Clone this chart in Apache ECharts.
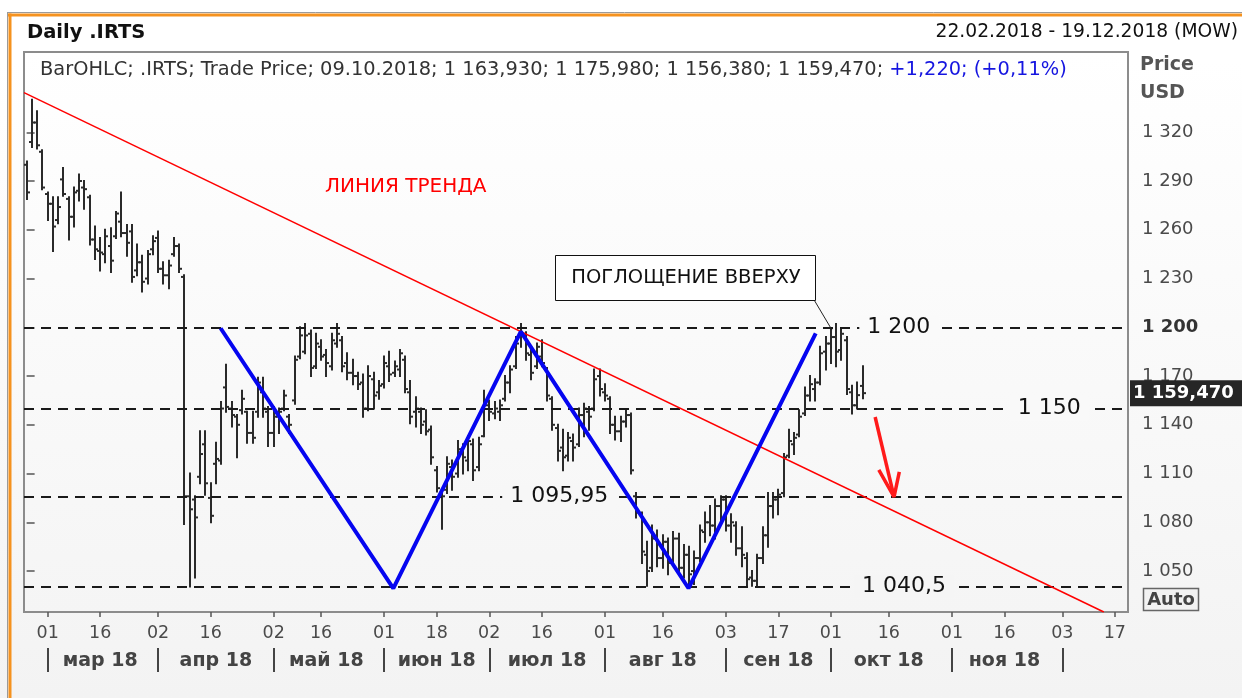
<!DOCTYPE html>
<html>
<head>
<meta charset="utf-8">
<title>Daily .IRTS</title>
<script src="https://cdn.jsdelivr.net/npm/echarts@6/dist/echarts.min.js"></script>
<style>
  html, body { margin: 0; padding: 0; background: #fff; }
  #chart { width: 1242px; height: 698px; background: linear-gradient(#ffffff 0px, #ffffff 60px, #f3f3f3 698px); }
</style>
</head>
<body>
<div id="chart"></div>
<script>
// календарь торговых дней
const firstDay = '2018-02-22';
const lastDay = '2018-12-19';
const holidays = ['2018-02-23', '2018-03-08', '2018-05-01', '2018-05-09', '2018-06-12', '2018-11-05'];
const extraDays = ['2018-04-28'];

// подписи оси X
const tickDays = ['2018-03-01', '2018-03-16', '2018-04-02', '2018-04-16', '2018-05-02', '2018-05-16',
  '2018-06-01', '2018-06-18', '2018-07-02', '2018-07-16', '2018-08-01', '2018-08-16', '2018-09-03',
  '2018-09-17', '2018-10-01', '2018-10-16', '2018-11-01', '2018-11-16', '2018-12-03', '2018-12-17'];
const monthStarts = ['2018-03-01', '2018-04-02', '2018-05-02', '2018-06-01', '2018-07-02',
  '2018-08-01', '2018-09-03', '2018-10-01', '2018-11-01', '2018-12-03'];
const monthNames = ['мар 18', 'апр 18', 'май 18', 'июн 18', 'июл 18', 'авг 18', 'сен 18', 'окт 18', 'ноя 18'];

// подписи оси Y
const yTicks = [1050, 1080, 1110, 1140, 1170, 1200, 1230, 1260, 1290, 1320];
const yMin = 1024.8;
const yMax = 1369.4;

// OHLC, 22.02.2018 - 09.10.2018
const opens = [
  1300, 1314, 1326, 1308, 1282, 1276, 1266, 1291, 1279, 1268,
  1284, 1286, 1280, 1254, 1247, 1245, 1250, 1256, 1265, 1258,
  1259, 1235, 1240, 1230, 1248, 1255, 1236, 1232, 1245, 1250,
  1231, 1096, 1094, 1108, 1128, 1095, 1116, 1118, 1163, 1150,
  1145, 1149, 1148, 1135, 1148, 1160, 1148, 1135, 1145, 1150,
  1145, 1155, 1182, 1185, 1196, 1176, 1188, 1183, 1176, 1190,
  1192, 1178, 1172, 1170, 1166, 1150, 1168, 1160, 1165, 1176,
  1172, 1174, 1180, 1160, 1148, 1148, 1142, 1137, 1112, 1098,
  1100, 1114, 1110, 1124, 1118, 1128, 1114, 1133, 1152, 1147,
  1148, 1156, 1166, 1176, 1194, 1194, 1183, 1176, 1182, 1174,
  1156, 1138, 1126, 1121, 1130, 1128, 1146, 1148, 1150, 1170,
  1160, 1156, 1140, 1136, 1142, 1146, 1096, 1085, 1060, 1052,
  1070, 1058, 1068, 1056, 1070, 1052, 1060, 1050, 1058, 1074,
  1080, 1078, 1090, 1094, 1078, 1078, 1064, 1058, 1046, 1044,
  1058, 1072, 1090, 1094, 1098, 1121, 1128, 1134, 1147, 1158,
  1162, 1166, 1185, 1190, 1194, 1186, 1192, 1160, 1152, 1163.93
];
const highs = [
  1302, 1340, 1333, 1309, 1283, 1280, 1280, 1298, 1280, 1286,
  1294, 1290, 1281, 1262, 1255, 1260, 1261, 1271, 1283, 1263,
  1263, 1251, 1244, 1247, 1256, 1259, 1240, 1241, 1255, 1251,
  1232, 1110, 1096, 1136, 1136, 1104, 1129, 1154, 1177, 1154,
  1146, 1161, 1148, 1148, 1169, 1169, 1151, 1151, 1150, 1161,
  1146, 1182, 1200, 1202, 1198, 1196, 1192, 1186, 1196, 1202,
  1194, 1184, 1180, 1172, 1171, 1176, 1172, 1167, 1182, 1185,
  1179, 1186, 1182, 1167, 1157, 1150, 1149, 1139, 1114, 1100,
  1120, 1118, 1130, 1128, 1133, 1131, 1132, 1161, 1155, 1154,
  1155, 1170, 1176, 1194, 1202, 1197, 1186, 1190, 1192, 1175,
  1157, 1140, 1137, 1135, 1134, 1150, 1153, 1151, 1174, 1174,
  1165, 1157, 1145, 1145, 1149, 1147, 1098, 1086, 1068, 1078,
  1075, 1072, 1070, 1074, 1073, 1066, 1065, 1062, 1078, 1086,
  1090, 1094, 1096, 1096, 1085, 1080, 1077, 1061, 1050, 1060,
  1077, 1098, 1098, 1100, 1122, 1137, 1135, 1149, 1163, 1170,
  1168, 1188, 1194, 1199, 1202, 1199, 1194, 1164, 1166, 1175.98
];
const lows = [
  1279, 1311, 1310, 1285, 1266, 1247, 1264, 1281, 1254, 1262,
  1278, 1273, 1251, 1242, 1235, 1240, 1234, 1255, 1256, 1244,
  1228, 1232, 1222, 1227, 1245, 1234, 1227, 1224, 1244, 1234,
  1079, 1040.5, 1046, 1104, 1097, 1080, 1104, 1116, 1148, 1139,
  1120, 1147, 1129, 1129, 1145, 1145, 1127, 1127, 1135, 1149,
  1135, 1153, 1181, 1184, 1170, 1175, 1180, 1170, 1174, 1188,
  1173, 1168, 1165, 1162, 1145, 1149, 1150, 1156, 1163, 1167,
  1170, 1170, 1160, 1141, 1139, 1135, 1134, 1116, 1099, 1076,
  1098, 1100, 1108, 1110, 1112, 1106, 1112, 1133, 1143, 1144,
  1143, 1155, 1160, 1175, 1188, 1180, 1168, 1175, 1176, 1155,
  1137, 1118, 1112, 1118, 1118, 1127, 1133, 1137, 1149, 1158,
  1155, 1135, 1131, 1130, 1139, 1110, 1083, 1055, 1041, 1050,
  1053, 1052, 1048, 1054, 1050, 1046, 1040.5, 1042, 1056, 1068,
  1072, 1070, 1080, 1075, 1068, 1060, 1053, 1041, 1041, 1041,
  1055, 1065, 1083, 1085, 1096, 1120, 1122, 1133, 1146, 1155,
  1155, 1165, 1174, 1178, 1176, 1180, 1159, 1147, 1150, 1156.38
];
const closes = [
  1283, 1326, 1312, 1286, 1276, 1262, 1274, 1282, 1268, 1283,
  1290, 1285, 1254, 1248, 1246, 1256, 1241, 1270, 1258, 1252,
  1231, 1240, 1228, 1245, 1253, 1236, 1232, 1238, 1250, 1236,
  1096, 1088, 1083, 1122, 1104, 1084, 1119, 1150, 1151, 1146,
  1140, 1156, 1135, 1132, 1166, 1150, 1135, 1145, 1148, 1158,
  1140, 1180, 1195, 1195, 1175, 1190, 1182, 1178, 1192, 1196,
  1176, 1172, 1170, 1165, 1150, 1170, 1158, 1164, 1178, 1171,
  1176, 1184, 1162, 1145, 1150, 1140, 1136, 1120, 1101, 1096,
  1116, 1108, 1125, 1120, 1130, 1112, 1128, 1155, 1148, 1150,
  1152, 1166, 1174, 1190, 1196, 1184, 1172, 1188, 1178, 1158,
  1140, 1124, 1120, 1132, 1126, 1146, 1150, 1145, 1168, 1162,
  1158, 1140, 1136, 1142, 1146, 1112, 1086, 1062, 1050, 1070,
  1058, 1068, 1055, 1070, 1052, 1060, 1048, 1058, 1075, 1080,
  1078, 1090, 1094, 1078, 1080, 1064, 1060, 1045, 1044, 1058,
  1072, 1090, 1094, 1097, 1120, 1130, 1132, 1145, 1158, 1165,
  1166, 1184, 1190, 1194, 1185, 1196, 1162, 1152, 1158.25, 1159.47
];

// уровни
const levelValues = [1200, 1150, 1095.95, 1040.5];
const levelLabels = ['1 200', '1 150', '1 095,95', '1 040,5'];
const levelLabelAt = [165.9, 194.5, 101.3, 166.9];

// разметка: [номер бара, цена]
const trendLine = [[-0.5, 1344.4], [204.9, 1024.8]];
const zigzag = [[36.9, 1199.4], [69.75, 1039.4], [94.0, 1197.3], [125.9, 1039.4], [150.1, 1196.3]];
const arrowShaft = [[161.4, 1144.8], [165.0, 1095.6]];
const arrowHead = [[162.1, 1112.2], [165.0, 1095.6], [166.0, 1111.0]];
const calloutLeader = [[149.8, 1216.8], [153.2, 1198.3]];

const font = 'DejaVu Sans';

function tradingDays() {
  const out = [];
  const d = new Date(firstDay + 'T00:00:00Z');
  const end = new Date(lastDay + 'T00:00:00Z');
  while (d <= end) {
    const s = d.toISOString().slice(0, 10);
    const wd = d.getUTCDay();
    if ((wd > 0 && wd < 6 && holidays.indexOf(s) < 0) || extraDays.indexOf(s) >= 0) out.push(s);
    d.setUTCDate(d.getUTCDate() + 1);
  }
  return out;
}

function fmt(v, digits) {
  const parts = v.toFixed(digits).split('.');
  const int = parts[0].replace(/\B(?=(\d{3})+(?!\d))/g, ' ');
  return parts.length > 1 ? int + ',' + parts[1] : int;
}

// цвет фона сетки на уровне цены (градиент #fff -> #f5f5f5)
function bgAt(v) {
  const t = (yMax - v) / (yMax - yMin);
  const c = Math.round(255 - 10 * t);
  return 'rgb(' + c + ',' + c + ',' + c + ')';
}

const dates = tradingDays();
const tickSet = new Set(tickDays);
const monthStartSet = new Set(monthStarts);
const monthLabelByIdx = {};
for (let k = 0; k < monthNames.length; k++) {
  const a = dates.indexOf(monthStarts[k]);
  const b = dates.indexOf(monthStarts[k + 1]);
  monthLabelByIdx[Math.floor((a + b) / 2)] = monthNames[k];
}

const last = closes.length - 1;
const change = closes[last] - closes[last - 1];
const pct = change / closes[last - 1] * 100;
const d = dates[last].split('-');
const legendMain = 'BarOHLC; .IRTS; Trade Price; ' + d[2] + '.' + d[1] + '.' + d[0] + '; ' +
  fmt(opens[last], 3) + '; ' + fmt(highs[last], 3) + '; ' + fmt(lows[last], 3) + '; ' + fmt(closes[last], 3) + '; ';
const legendChange = (change >= 0 ? '+' : '') + fmt(change, 3) + '; (' + (pct >= 0 ? '+' : '') + fmt(pct, 2) + '%)';

const ohlc = opens.map((o, i) => [i, o, highs[i], lows[i], closes[i]]);

function renderBar(params, api) {
  const i = api.value(0);
  const pO = api.coord([i, api.value(1)]);
  const pH = api.coord([i, api.value(2)]);
  const pL = api.coord([i, api.value(3)]);
  const pC = api.coord([i, api.value(4)]);
  const x = Math.round(pO[0]);
  const st = { stroke: '#2a2a2a', lineWidth: 2 };
  return {
    type: 'group',
    children: [
      { type: 'line', shape: { x1: x, y1: pH[1] - 1, x2: x, y2: pL[1] + 1 }, style: st },
      { type: 'line', shape: { x1: x - 3, y1: pO[1], x2: x, y2: pO[1] }, style: st },
      { type: 'line', shape: { x1: x, y1: pC[1], x2: x + 3, y2: pC[1] }, style: st }
    ]
  };
}

// подпись уровня поверх пунктира
function renderLevelLabel(params, api) {
  const p = api.coord([api.value(0), api.value(1)]);
  const k = params.dataIndex;
  return {
    type: 'text',
    x: p[0],
    y: p[1],
    style: {
      text: levelLabels[k],
      fontSize: 22,
      fontFamily: font,
      fill: '#111',
      align: 'center',
      verticalAlign: 'middle',
      backgroundColor: bgAt(api.value(1)),
      padding: [1, 8]
    }
  };
}

function overlay(name, data, color, width) {
  return {
    name: name,
    type: 'line',
    xAxisIndex: 2,
    data: data,
    symbol: 'none',
    silent: true,
    z: 5,
    lineStyle: { color: color, width: width },
    clip: true
  };
}

const chart = echarts.init(document.getElementById('chart'));
chart.setOption({
  animation: false,
  textStyle: { fontFamily: font },
  title: [
    { text: 'Daily .IRTS', left: 27, top: 23, padding: 0,
      textStyle: { fontSize: 19.5, fontWeight: 'bold', color: '#111', fontFamily: font } },
    { text: '22.02.2018 - 19.12.2018 (MOW)', right: 4, top: 23, padding: 0,
      textStyle: { fontSize: 18.7, fontWeight: 'normal', color: '#111', fontFamily: font } },
    { text: '{g|' + legendMain + '}{b|' + legendChange + '}', left: 40, top: 60, padding: 0,
      textStyle: { fontWeight: 'normal', rich: {
        g: { fontSize: 19.4, fontWeight: 'normal', color: '#333', fontFamily: font },
        b: { fontSize: 19.4, fontWeight: 'normal', color: '#1515e0', fontFamily: font }
      } } }
  ],
  grid: {
    left: 24, right: 114, top: 52, bottom: 86,
    show: true,
    borderColor: '#8c8c8c',
    borderWidth: 2,
    backgroundColor: new echarts.graphic.LinearGradient(0, 0, 0, 1, [
      { offset: 0, color: '#ffffff' },
      { offset: 1, color: '#f5f5f5' }
    ])
  },
  xAxis: [
    {
      type: 'category',
      data: dates,
      axisLine: { show: false },
      axisTick: { show: true, alignWithLabel: true, interval: (i, v) => tickSet.has(v), length: 5,
        lineStyle: { color: '#555', width: 1.5 } },
      axisLabel: { interval: (i, v) => tickSet.has(v), formatter: v => v.slice(8, 10), margin: 12,
        fontSize: 17.5, color: '#4a4a4a', fontFamily: font },
      splitLine: { show: false }
    },
    {
      type: 'category',
      data: dates,
      position: 'bottom',
      offset: 36,
      axisLine: { show: false },
      axisTick: { show: true, alignWithLabel: true, interval: (i, v) => monthStartSet.has(v), length: 24,
        lineStyle: { color: '#444', width: 2 } },
      axisLabel: { interval: i => monthLabelByIdx[i] !== undefined, formatter: (v, i) => monthLabelByIdx[i] || '',
        margin: 4, fontSize: 19, fontWeight: 'bold', color: '#444', fontFamily: font },
      splitLine: { show: false }
    },
    { type: 'value', min: -0.5, max: dates.length - 0.5, show: false }
  ],
  yAxis: {
    type: 'value',
    position: 'right',
    min: yMin,
    max: yMax,
    axisLine: { show: false },
    splitLine: { show: false },
    axisTick: { show: true, customValues: yTicks, length: 8, lineStyle: { color: '#555', width: 1.5 } },
    axisLabel: {
      customValues: yTicks,
      margin: 14,
      fontSize: 18,
      color: '#4a4a4a',
      fontFamily: font,
      formatter: v => v === 1200 ? '{b|1 200}' : fmt(v, 0),
      rich: { b: { fontSize: 18, fontWeight: 'bold', color: '#333', fontFamily: font } }
    }
  },
  series: [
    {
      name: '.IRTS',
      type: 'custom',
      xAxisIndex: 0,
      data: ohlc,
      renderItem: renderBar,
      encode: { x: 0, y: [1, 2, 3, 4] },
      clip: true,
      silent: true,
      z: 3,
      markLine: {
        silent: true,
        symbol: 'none',
        animation: false,
        data: levelValues.map(v => ({
          yAxis: v,
          lineStyle: { color: '#1a1a1a', width: 2, type: [10, 7] },
          label: { show: false }
        })).concat([{
          yAxis: closes[last],
          lineStyle: { color: 'rgba(0,0,0,0)', width: 0 },
          label: {
            show: true, position: 'end', distance: 2,
            formatter: fmt(closes[last], 3),
            backgroundColor: '#262626', color: '#fff', fontWeight: 'bold', fontSize: 18,
            fontFamily: font, padding: [5, 12, 3, 3]
          }
        }])
      }
    },
    overlay('trend', trendLine, '#ff0000', 1.5),
    overlay('zigzag', zigzag, '#0505f0', 4),
    overlay('arrow', arrowShaft, '#ff1a1a', 3.5),
    overlay('arrowHead', arrowHead, '#ff1a1a', 3.5),
    overlay('callout', calloutLeader, '#222', 1),
    {
      name: 'levels',
      type: 'custom',
      xAxisIndex: 2,
      silent: true,
      z: 6,
      data: levelValues.map((v, k) => [levelLabelAt[k], v]),
      renderItem: renderLevelLabel
    }
  ],
  graphic: [
    { type: 'line', shape: { x1: 7, y1: 12.5, x2: 1242, y2: 12.5 }, style: { stroke: '#9a9a9a', lineWidth: 1 } },
    { type: 'line', shape: { x1: 8, y1: 15, x2: 1242, y2: 15 }, style: { stroke: '#f5921e', lineWidth: 3 } },
    { type: 'line', shape: { x1: 7.5, y1: 12, x2: 7.5, y2: 698 }, style: { stroke: '#9a9a9a', lineWidth: 1 } },
    { type: 'line', shape: { x1: 10, y1: 13.5, x2: 10, y2: 698 }, style: { stroke: '#f5921e', lineWidth: 3 } },
    { type: 'text', left: 1140, top: 56, style: { text: 'Price', fontSize: 19, fontWeight: 'bold', fill: '#555', fontFamily: font } },
    { type: 'text', left: 1140, top: 84, style: { text: 'USD', fontSize: 19, fontWeight: 'bold', fill: '#555', fontFamily: font } },
    { type: 'rect', shape: { x: 1143.5, y: 588.5, width: 55, height: 22 }, style: { fill: '#f2f2f2', stroke: '#666', lineWidth: 1.5 } },
    { type: 'text', x: 1171, y: 600, style: { text: 'Auto', fontSize: 18, fontWeight: 'bold', fill: '#444', fontFamily: font, align: 'center', verticalAlign: 'middle' } },
    { type: 'text', x: 325, y: 187, z: 10, style: { text: 'ЛИНИЯ ТРЕНДА', fontSize: 20, fill: '#ff0000', fontFamily: font, verticalAlign: 'middle' } },
    { type: 'rect', z: 10, shape: { x: 555.5, y: 255.5, width: 260, height: 45 }, style: { fill: '#fff', stroke: '#111', lineWidth: 1 } },
    { type: 'text', z: 11, x: 686, y: 278, style: { text: 'ПОГЛОЩЕНИЕ ВВЕРХУ', fontSize: 19.5, fill: '#111', fontFamily: font, align: 'center', verticalAlign: 'middle' } }
  ]
});
</script>
</body>
</html>
